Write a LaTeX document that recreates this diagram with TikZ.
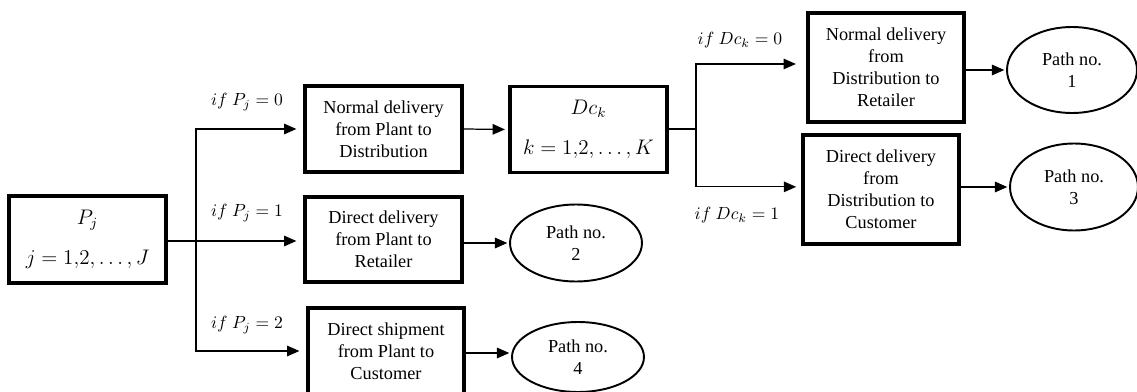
\documentclass[tikz,border=0pt]{standalone}
\usepackage{fontspec}
\setmainfont{Liberation Serif}
\usetikzlibrary{arrows.meta,shapes.geometric}
\tikzset{
  px/.style={x=0.02cm,y=-0.02cm},
  boxn/.style={draw,line width=1.8pt,inner sep=0pt,align=center,font=\fontsize{10.4}{12.6}\selectfont},
  mathbox/.style={boxn,font=\fontsize{12}{14}\selectfont},
  elln/.style={draw,ellipse,line width=1.1pt,inner sep=0pt,align=center,font=\fontsize{10.4}{12.6}\selectfont},
  conn/.style={line width=0.7pt},
  arr/.style={conn,-{Triangle[length=7pt,width=6pt]}},
  lab/.style={font=\fontsize{10.2}{12}\selectfont,inner sep=0pt}
}
\begin{document}
\begin{tikzpicture}[px]
\useasboundingbox (0,0) rectangle (1137,392);
% nodes
\node[mathbox,minimum width=3.14cm,minimum height=1.74cm] (Pj) at (87.5,239.5) {$P_j$\\[9pt]$j=1{,}2,\ldots,J$};
\node[boxn,minimum width=3.14cm,minimum height=1.72cm] (B1) at (383.5,129) {Normal delivery\\from Plant to\\Distribution};
\node[mathbox,minimum width=3.14cm,minimum height=1.72cm] (Dc) at (588.5,129.5) {$Dc_k$\\[9pt]$k=1{,}2,\ldots,K$};
\node[boxn,minimum width=3.14cm,minimum height=1.70cm] (B2) at (383.5,239.5) {Direct delivery\\from Plant to\\Retailer};
\node[boxn,minimum width=3.12cm,minimum height=1.72cm] (B3) at (386,351) {Direct shipment\\from Plant to\\Customer};
\node[boxn,minimum width=3.12cm,minimum height=2.18cm] (B4) at (886,67.5) {Normal delivery\\from\\Distribution to\\Retailer};
\node[boxn,minimum width=3.12cm,minimum height=2.18cm] (B5) at (881,189.5) {Direct delivery\\from\\Distribution to\\Customer};
\node[elln,minimum width=2.64cm,minimum height=1.54cm] (E2) at (576,243) {Path no.\\2};
\node[elln,minimum width=2.64cm,minimum height=1.40cm] (E4) at (578,357) {Path no.\\4};
\node[elln,minimum width=2.60cm,minimum height=1.72cm] (E1) at (1072,70) {Path no.\\1};
\node[elln,minimum width=2.56cm,minimum height=1.74cm] (E3) at (1074,187) {Path no.\\3};
% labels
\node[lab] (L0) at (247,102) {$if\ P_j=0$};
\node[lab] (L1) at (247,213) {$if\ P_j=1$};
\node[lab] (L2) at (247,325) {$if\ P_j=2$};
\node[lab] (L3) at (740,40) {$if\ Dc_k=0$};
\node[lab] (L4) at (737,215) {$if\ Dc_k=1$};
% split points
\coordinate (s1) at (196,241);
\coordinate (s2) at (696,129);
% connectors
\draw[conn] (Pj.east |- s1) -- (s1);
\draw[arr,shorten >=4pt] (s1) |- (B1.west);
\draw[arr,shorten >=4pt] (s1) -- (B2.west |- s1);
\draw[arr,shorten >=4pt] (s1) |- (B3.west);
\draw[arr,shorten >=2pt] (B1.east) -- (Dc.west);
\draw[conn] (Dc.east |- s2) -- (s2);
\draw[arr,shorten >=6pt] (s2) |- ([yshift=2pt]B4.west);
\draw[arr,shorten >=3pt] (s2) |- ([yshift=1.5pt]B5.west);
\draw[arr,shorten >=1pt] (B2.east |- E2.west) -- (E2.west);
\draw[arr,shorten >=1pt] (B3.east |- 0,353) -- (E4.west |- 0,353);
\draw[arr,shorten >=1pt] (B4.east |- E1.west) -- (E1.west);
\draw[arr,shorten >=1pt] (B5.east |- E3.west) -- (E3.west);
\end{tikzpicture}
\end{document}
